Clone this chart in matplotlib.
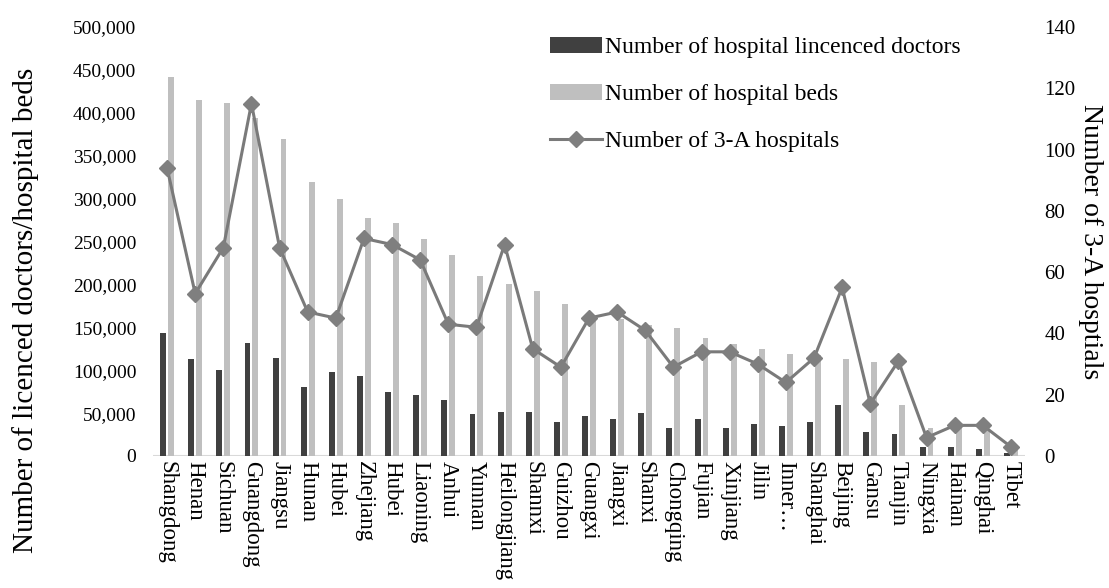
import numpy as np
import matplotlib
matplotlib.use("Agg")
import matplotlib.pyplot as plt
from matplotlib.ticker import FuncFormatter, MultipleLocator

# --- dados ---
provinces = ["Shangdong", "Henan", "Sichuan", "Guangdong", "Jiangsu", "Hunan", "Hubei",
             "Zhejiang", "Hubei", "Liaoning", "Anhui", "Yunnan", "Heilongjiang", "Shannxi",
             "Guizhou", "Guangxi", "Jiangxi", "Shanxi", "Chongqing", "Fujian", "Xinjiang",
             "Jilin", "Inner\u2026", "Shanghai", "Beijing", "Gansu", "Tianjin", "Ningxia",
             "Hainan", "Qinghai", "Tibet"]
doctors = [143000, 113000, 100000, 132000, 114000, 81000, 98000, 93000, 75000, 71000, 65000,
           49000, 51000, 51000, 40000, 47000, 43000, 50000, 33000, 43000, 33000, 37000,
           35000, 40000, 59000, 28000, 26000, 10000, 10000, 8000, 3000]
beds = [442000, 415000, 411000, 394000, 369000, 319000, 299000, 277000, 271000, 253000, 234000,
        210000, 200000, 192000, 177000, 158000, 160000, 153000, 149000, 138000, 131000, 125000,
        119000, 118000, 113000, 110000, 59000, 33000, 35000, 32000, 10000]
hospitals_3a = [94, 53, 68, 115, 68, 47, 45, 71, 69, 64, 43, 42, 69, 35, 29, 45, 47, 41,
                29, 34, 34, 30, 24, 32, 55, 17, 31, 6, 10, 10, 3]

plt.rcParams["font.family"] = ["Liberation Serif", "DejaVu Serif"]

fig = plt.figure(figsize=(11.09, 5.88), dpi=100)
ax = fig.add_axes([153 / 1109, 1 - 456 / 588, 872 / 1109, 429 / 588])
ax2 = ax.twinx()

x = np.arange(len(provinces))
w = 0.21
b1 = ax.bar(x - 0.14, doctors, width=w, color="#404040", zorder=2,
            label="Number of hospital lincenced doctors")
b2 = ax.bar(x + 0.14, beds, width=w, color="#bfbfbf", zorder=2,
            label="Number of hospital beds")
ln, = ax2.plot(x, hospitals_3a, color="#7a7a7a", lw=2.2, marker="D", ms=8,
               markerfacecolor="#7f7f7f", markeredgecolor="#7f7f7f",
               label="Number of 3-A hospitals")

ax.set_xlim(-0.5, len(provinces) - 0.5)
ax.set_ylim(0, 500000)
ax2.set_ylim(0, 140)
ax.yaxis.set_major_locator(MultipleLocator(50000))
ax2.yaxis.set_major_locator(MultipleLocator(20))
ax.yaxis.set_major_formatter(FuncFormatter(lambda v, p: f"{int(v):,}"))

for a in (ax, ax2):
    for s in ["top", "left", "right", "bottom"]:
        a.spines[s].set_visible(False)
    a.tick_params(length=0)
ax.axhline(0, color="#d9d9d9", lw=1.5, zorder=1)

ax.set_xticks(x)
ax.set_xticklabels(provinces, rotation=270, fontsize=16.5)
ax.tick_params(axis="y", labelsize=14, pad=12)
ax2.tick_params(axis="y", labelsize=15, pad=14)

ax.set_ylabel("Number of licenced doctors/hospital beds", fontsize=21)
ax.yaxis.set_label_coords(-114 / 872, 0.34)
ax2.set_ylabel("Number of 3-A hosptials", fontsize=20, rotation=270, va="center")
ax2.yaxis.set_label_coords(1 + 66 / 872, 0.5)

fig.legend(handles=[b1, b2, ln], loc="upper left", bbox_to_anchor=(538 / 1109, 1 - 25 / 588),
           frameon=False, fontsize=17, labelspacing=1.08, handlelength=2.2,
           handletextpad=0.15, borderpad=0)

fig.savefig("out.png", dpi=100)
